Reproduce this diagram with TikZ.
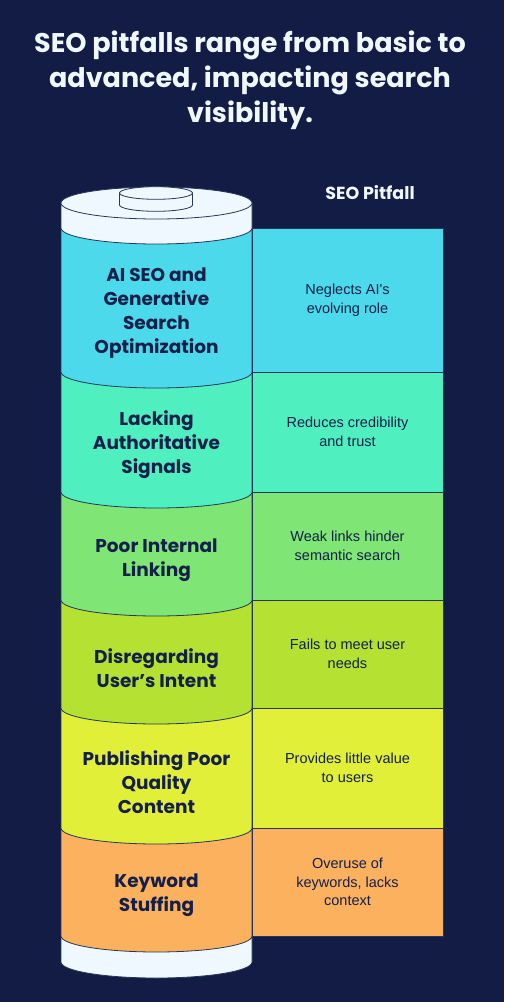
\documentclass[tikz,border=0pt]{standalone}
\usepackage{fontspec}
\setmainfont{Poppins}
\newfontfamily\descfont{Liberation Sans}
\usepackage{tikz}

\definecolor{navybg}{HTML}{121C45}
\definecolor{inkblue}{HTML}{14204A}
\definecolor{edgeline}{HTML}{24375A}
\definecolor{capwhite}{HTML}{F0F8FF}
\definecolor{cyanlayer}{HTML}{4CD9EB}
\definecolor{teallayer}{HTML}{50EFC0}
\definecolor{greenlayer}{HTML}{7FE574}
\definecolor{limelayer}{HTML}{B4E132}
\definecolor{yellowlayer}{HTML}{E2EF38}
\definecolor{orangelayer}{HTML}{FCB15E}

\tikzset{
  layer/.style={draw=edgeline, line width=0.8pt},
  pitfall/.style={font=\bfseries\fontsize{18.5}{24}\selectfont, text=inkblue, align=center},
  descbox/.style={draw=edgeline, line width=0.8pt, minimum width=191pt, inner sep=0pt,
    align=center, text=inkblue, font=\descfont\fontsize{14.5}{18.5}\selectfont}
}

\begin{document}
\begin{tikzpicture}[x=1pt, y=-1pt]
%%   kw   (name)   (x, y)   {text}
    \useasboundingbox (0,0) rectangle (504,1002);
    \fill[navybg] (0,0) rectangle (504,1002);

    \node[text=capwhite, align=center, font=\bfseries\fontsize{27}{35}\selectfont] (title) at (250,80)
        {SEO pitfalls range from basic to\\advanced, impacting search\\visibility.};
    \node[text=capwhite, font=\bfseries\fontsize{17.5}{21}\selectfont] (header) at (370,193) {SEO Pitfall};

    \filldraw[layer, fill=capwhite] (61,936) -- (61,962) arc[start angle=180, end angle=0, x radius=95.5, y radius=16] -- (252,936) -- cycle;
    \filldraw[layer, fill=orangelayer] (61,828) -- (61,936) arc[start angle=180, end angle=0, x radius=95.5, y radius=16] -- (252,828) -- cycle;
    \filldraw[layer, fill=yellowlayer] (61,708) -- (61,828) arc[start angle=180, end angle=0, x radius=95.5, y radius=16] -- (252,708) -- cycle;
    \filldraw[layer, fill=limelayer] (61,600) -- (61,708) arc[start angle=180, end angle=0, x radius=95.5, y radius=16] -- (252,600) -- cycle;
    \filldraw[layer, fill=greenlayer] (61,492) -- (61,600) arc[start angle=180, end angle=0, x radius=95.5, y radius=16] -- (252,492) -- cycle;
    \filldraw[layer, fill=teallayer] (61,372) -- (61,492) arc[start angle=180, end angle=0, x radius=95.5, y radius=16] -- (252,372) -- cycle;
    \filldraw[layer, fill=cyanlayer] (61,228) -- (61,372) arc[start angle=180, end angle=0, x radius=95.5, y radius=16] -- (252,228) -- cycle;
    \filldraw[layer, fill=capwhite] (61,203) -- (61,228) arc[start angle=180, end angle=0, x radius=95.5, y radius=16] -- (252,203) -- cycle;
    \filldraw[layer, fill=capwhite] (156.5,203) ellipse[x radius=95.5, y radius=16];
    \filldraw[layer, fill=capwhite] (119.5,193) -- (119.5,205) arc[start angle=180, end angle=0, x radius=36.5, y radius=6.3] -- (192.5,193) -- cycle;
    \filldraw[layer, fill=capwhite] (156,193) ellipse[x radius=36.5, y radius=6.3];

    \node[pitfall] (aiseo) at (156.5,313) {AI SEO and\\Generative\\Search\\Optimization};
    \node[pitfall] (lacking) at (156.5,445) {Lacking\\Authoritative\\Signals};
    \node[pitfall] (linking) at (156.5,560) {Poor Internal\\Linking};
    \node[pitfall] (intent) at (156.5,668) {Disregarding\\User's Intent};
    \node[pitfall] (publishing) at (156.5,782) {Publishing Poor\\Quality\\Content};
    \node[pitfall] (stuffing) at (156.5,895) {Keyword\\Stuffing};

    \node[descbox, fill=cyanlayer, minimum height=144pt] (neglects) at (347.5,300) {Neglects AI's\\evolving role};
    \node[descbox, fill=teallayer, minimum height=120pt] (reduces) at (347.5,432) {Reduces credibility\\and trust};
    \node[descbox, fill=greenlayer, minimum height=108pt] (weak) at (347.5,546) {Weak links hinder\\semantic search};
    \node[descbox, fill=limelayer, minimum height=108pt] (fails) at (347.5,654) {Fails to meet user\\needs};
    \node[descbox, fill=yellowlayer, minimum height=120pt] (provides) at (347.5,768) {Provides little value\\to users};
    \node[descbox, fill=orangelayer, minimum height=108pt] (overuse) at (347.5,882) {Overuse of\\keywords, lacks\\context};
\end{tikzpicture}
\end{document}
